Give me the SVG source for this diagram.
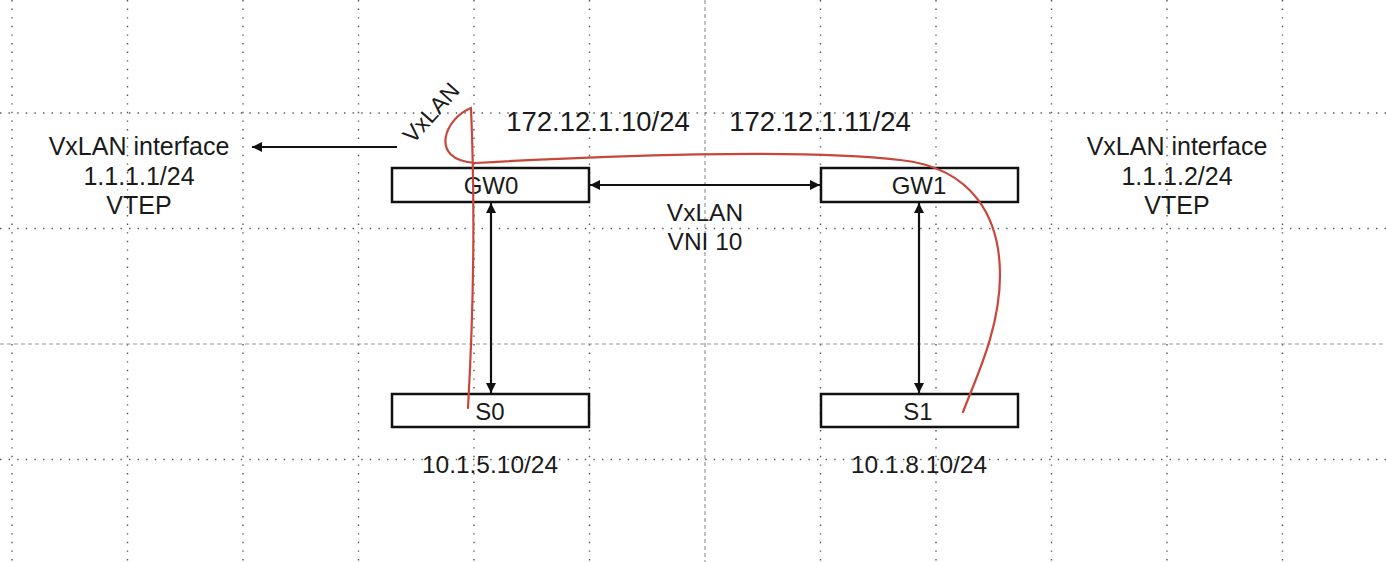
<svg xmlns="http://www.w3.org/2000/svg" width="1386" height="562" viewBox="0 0 1386 562">
<defs>
<style>
.grid{stroke:#555;stroke-width:1.4;stroke-dasharray:1.4,7.2;fill:none}
.grid2{stroke:#999;stroke-width:1.2;stroke-dasharray:4,3;fill:none}
.node{fill:#fff;stroke:#111;stroke-width:2.5}
.t{font-family:"Liberation Sans",Arial,sans-serif;fill:#1a1a1a;text-anchor:middle}
.conn{stroke:#111;stroke-width:2.2;fill:none}
.red{stroke:#c8463a;stroke-width:2.2;fill:none;stroke-linecap:round}
</style>
<marker id="ah" viewBox="0 0 10 10" refX="10" refY="5" markerWidth="11" markerHeight="10" markerUnits="userSpaceOnUse" orient="auto-start-reverse">
<path d="M0,0 L10,5 L0,10 z" fill="#111"/>
</marker>
</defs>
<rect width="1386" height="562" fill="#fff"/>
<g id="grid">
<path class="grid" d="M12,0V562M127.5,0V562M243,0V562M358.5,0V562M474,0V562M589.5,0V562M820.5,0V562M936,0V562M1051.5,0V562M1167,0V562M1282.5,0V562"/>
<path class="grid2" d="M705,0V562"/>
<path class="grid" d="M0,113H1386M0,228.5H1386M0,459.5H1386"/>
<path class="grid2" d="M0,344H1386"/>
</g>
<g id="connectors">
<line class="conn" x1="590" y1="185" x2="820" y2="185" marker-start="url(#ah)" marker-end="url(#ah)"/>
<line class="conn" x1="491" y1="203" x2="491" y2="393" marker-start="url(#ah)" marker-end="url(#ah)"/>
<line class="conn" x1="919" y1="203" x2="919" y2="393" marker-start="url(#ah)" marker-end="url(#ah)"/>
<line class="conn" x1="397" y1="147" x2="252" y2="147" marker-end="url(#ah)"/>
</g>
<g id="GW0">
<rect class="node" x="392" y="168" width="197" height="34"/>
<text class="t" x="491" y="194" font-size="24">GW0</text>
</g>
<g id="GW1">
<rect class="node" x="821" y="168" width="197" height="34"/>
<text class="t" x="919" y="194" font-size="24">GW1</text>
</g>
<g id="S0">
<rect class="node" x="392" y="394" width="197" height="33"/>
<text class="t" x="490" y="420" font-size="24">S0</text>
</g>
<g id="S1">
<rect class="node" x="821" y="394" width="197" height="33"/>
<text class="t" x="918" y="420" font-size="24">S1</text>
</g>
<g id="labels">
<text class="t" font-size="25" x="139" y="155">VxLAN interface</text>
<text class="t" font-size="25" x="139" y="185">1.1.1.1/24</text>
<text class="t" font-size="25" x="139" y="214">VTEP</text>
<text class="t" font-size="25" x="1177" y="155">VxLAN interface</text>
<text class="t" font-size="25" x="1177" y="185">1.1.1.2/24</text>
<text class="t" font-size="25" x="1177" y="214">VTEP</text>
<text class="t" font-size="27.5" x="598" y="131">172.12.1.10/24</text>
<text class="t" font-size="27.5" x="820" y="131">172.12.1.11/24</text>
<text class="t" font-size="24.5" x="705" y="221">VxLAN</text>
<text class="t" font-size="24.5" x="705" y="250">VNI 10</text>
<text class="t" font-size="24.5" x="490" y="473">10.1.5.10/24</text>
<text class="t" font-size="24.5" x="919" y="473">10.1.8.10/24</text>
<text class="t" font-size="23" x="437" y="118" transform="rotate(-48 437 118)">VxLAN</text>
</g>
<g id="annotation">
<path class="red" d="M468,408 Q477,250 471,108 C445,118 428,160 475,163 C600,156 800,148 900,160 C975,168 1000,220 1000,275 C1000,330 975,380 963,412"/>
</g>
</svg>
